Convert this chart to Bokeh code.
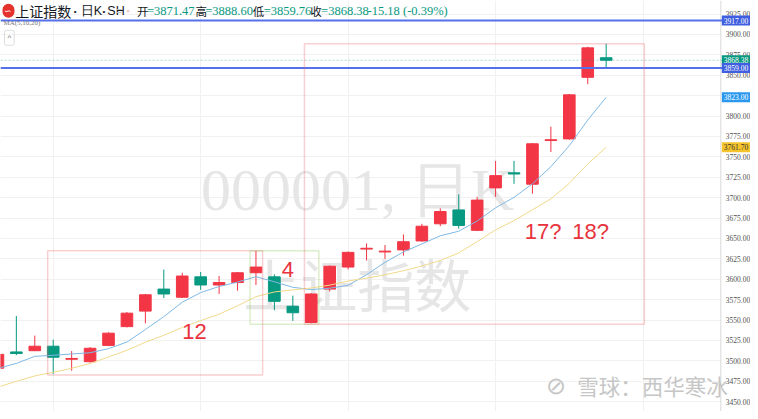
from bokeh.plotting import figure
from bokeh.models import (ColumnDataSource, FixedTicker, Span, BoxAnnotation, Label)
from bokeh.core.properties import value
from bokeh.embed import file_html
from bokeh.resources import INLINE

# ---------------- data ----------------
idx = list(range(34))
opens = [3491, 3511, 3512.5, 3518, 3502, 3499, 3519, 3542, 3561, 3588,
         3578, 3603, 3593, 3596, 3608, 3603, 3567, 3547, 3588, 3615,
         3637, 3633.5, 3636, 3647, 3668, 3685, 3660, 3712, 3730.5, 3716.5,
         3770, 3772, 3847.5, 3871.47]
highs = [3510, 3555, 3531, 3526, 3512, 3517, 3535, 3560, 3582, 3612,
         3608, 3609, 3604, 3609, 3635, 3606, 3580, 3583, 3617, 3634,
         3644, 3642, 3655, 3668, 3687, 3704, 3701, 3745, 3745, 3767,
         3787, 3827, 3885, 3888.60]
lows = [3489, 3507, 3512, 3484, 3488, 3498, 3518, 3541, 3546, 3577,
        3577, 3587, 3582, 3586, 3593, 3562, 3549, 3546, 3585, 3612,
        3623, 3625, 3629, 3646, 3665, 3662, 3659, 3701, 3717, 3705,
        3756, 3771, 3839, 3859.76]
closes = [3508, 3509, 3518, 3504.5, 3503, 3515.5, 3534, 3558.5, 3581, 3582,
          3604, 3593, 3596, 3608, 3615, 3573, 3559, 3582, 3616, 3633,
          3638, 3634.5, 3646, 3665, 3683, 3666, 3697, 3727, 3729, 3766,
          3771, 3826, 3883.56, 3868.38]
ma5 = [3490.9, 3496.9, 3505.6, 3506.9, 3508.5, 3510.0, 3515.0, 3523.1, 3538.4, 3554.2,
       3571.9, 3583.7, 3591.2, 3596.6, 3603.2, 3597.0, 3590.2, 3587.4, 3589.0, 3592.6,
       3605.6, 3620.7, 3633.5, 3643.3, 3653.3, 3658.9, 3671.4, 3687.6, 3700.4, 3717.0,
       3738.0, 3763.8, 3795.1, 3823.0]
ma10 = [3468.0, 3474.9, 3481.6, 3486.0, 3490.9, 3496.8, 3504.9, 3512.9, 3522.9, 3531.4,
        3541.0, 3549.4, 3557.2, 3567.5, 3578.7, 3584.5, 3587.0, 3589.3, 3592.8, 3597.9,
        3601.3, 3605.5, 3610.5, 3616.2, 3623.0, 3632.3, 3646.1, 3660.6, 3671.9, 3685.2,
        3698.5, 3717.6, 3741.4, 3761.7]
price_ticks = [3450, 3475, 3500, 3525, 3550, 3575, 3600, 3625, 3650, 3675, 3700,
               3725, 3750, 3775, 3800, 3825, 3850, 3875, 3900, 3925]
h_levels = [3917.00, 3859.00]
date_grid = [3, 11, 19, 27, 35]

# annotation boxes: (left, right, top, bottom, colour)
boxes = [
    (2.70, 14.36, 3635.1, 3482.8, "#ee5f66"),
    (13.68, 17.41, 3635.1, 3545.0, "#8cc34e"),
    (16.63, 35.07, 3888.7, 3545.0, "#ee5f66"),
]
# box texts: (text, x, y)
box_texts = [("12", 10.66, 3536.0), ("4", 15.73, 3611.7),
             ("17?", 29.58, 3659.1), ("18?", 32.16, 3659.1)]

# ---------------- styling ----------------
RED = "#f23645"
GREEN = "#089981"
X0, X1 = 0.14, 40.83       # whole canvas width
AX = 39.22                 # left edge of the price scale strip
Y0, Y1 = 3438.0, 3941.6
W, H = 750, 411
SX, SY = W / 758, H / 419


def sx(x):
    return x * SX


def sy(y):
    return H - y * SY


p = figure(width=W, height=H, x_range=(X0, X1), y_range=(Y0, Y1),
           x_axis_location=None, y_axis_location=None,
           output_backend="svg", toolbar_location=None, min_border=0,
           outline_line_color=None, background_fill_color="white",
           border_fill_color="white")

p.ygrid.ticker = FixedTicker(ticks=price_ticks)
p.ygrid.grid_line_color = "#f1f1f1"
p.xgrid.ticker = FixedTicker(ticks=date_grid)
p.xgrid.grid_line_color = "#f1f1f1"

# price-scale strip (white, hides grid lines) + its border
p.add_layout(BoxAnnotation(left=AX, fill_color="white", fill_alpha=1.0,
                           line_color=None, level="underlay"))
p.add_layout(Span(location=AX, dimension="height", line_color="#d9d9d9", line_width=1))

# watermarks (behind the candles)
p.add_layout(Label(x=19.52, y=3709, text="000001, 日K", text_align="center",
                   text_baseline="middle", text_font="Liberation Sans Narrow",
                   text_font_size="60px", text_color="#e6e6e6", level="underlay"))
p.add_layout(Label(x=19.5, y=3597, text="上证指数", text_align="center",
                   text_baseline="middle", text_font="Noto Sans CJK SC",
                   text_font_size="57px", text_color="#e6e6e6", level="underlay"))

# price scale labels
p.text(x=[AX] * len(price_ticks), y=price_ticks, text=[f"{t:.2f}" for t in price_ticks],
       x_offset=5, text_align="left", text_baseline="middle",
       text_font=value("Liberation Sans Narrow"), text_font_size="7.5px",
       text_color="#4f4f4f")

# candles
tops = [max(o, c) for o, c in zip(opens, closes)]
bottoms = [min(o, c) for o, c in zip(opens, closes)]
colors = [RED if c >= o else GREEN for o, c in zip(opens, closes)]
src = ColumnDataSource(dict(x=idx, high=highs, low=lows, top=tops, bottom=bottoms, color=colors))
p.segment(x0="x", y0="high", x1="x", y1="low", line_color="color", line_width=1, source=src)
p.vbar(x="x", width=0.63, top="top", bottom="bottom", fill_color="color",
       line_color="color", line_width=1, source=src)

# moving averages
p.line(idx, ma5, line_color="#7fb9e6", line_width=1)
p.line(idx, ma10, line_color="#f1d98c", line_width=1)

# horizontal levels
for lv in h_levels:
    p.add_layout(Span(location=lv, dimension="width", line_color="#5570e8", line_width=2))
p.add_layout(Span(location=closes[-1], dimension="width", line_color=GREEN,
                  line_alpha=0.35, line_dash="2 2", line_width=1))

# boxes with labels
for left, right, top, bottom, col in boxes:
    p.add_layout(BoxAnnotation(left=left, right=right, top=top, bottom=bottom,
                               fill_color=None, fill_alpha=0, line_color=col,
                               line_width=1.5))
for txt, lx, ly in box_texts:
    p.add_layout(Label(x=lx, y=ly, text=txt, text_align="center", text_baseline="middle",
                       text_font="Liberation Sans", text_font_size="22px",
                       text_color="#e8333d"))

# price tags on the price scale
tags = [(h_levels[0], "#3f5fe0", "white"),
        (closes[-1], GREEN, "white"),
        (h_levels[1], "#3f5fe0", "white"),
        (ma5[-1], "#2b98f0", "white"),
        (ma10[-1], "#f5c32c", "#333333")]
for val, bg, fg in tags:
    p.add_layout(Label(x=AX, y=val, x_offset=1, text=f"{val:.2f}", text_align="left",
                       text_baseline="middle", text_font="Liberation Sans Narrow",
                       text_font_size="7.5px", text_color=fg, background_fill_color=bg,
                       padding=2))

# header
p.add_layout(Label(x=sx(2), y=sy(10.5), x_units="screen", y_units="screen", text="∽",
                   text_color="white", text_font_size="9px", text_baseline="middle",
                   background_fill_color="#e5322d", padding=2, border_radius=6))
title_parts = [("上证指数", 15, "Noto Sans CJK SC", "14px"),
               ("•", 74, "Liberation Sans", "8px"),
               ("日K", 81, "Liberation Sans", "12.5px"),
               ("•", 103, "Liberation Sans", "8px"),
               ("SH", 108, "Liberation Sans", "12.5px")]
for t, tx, fnt, fs in title_parts:
    p.add_layout(Label(x=sx(tx), y=sy(11), x_units="screen", y_units="screen", text=t,
                       text_font=fnt, text_font_size=fs, text_color="#131722",
                       text_baseline="middle"))
p.add_layout(Label(x=sx(117), y=sy(11), x_units="screen", y_units="screen",
                   text="=", text_font_size="10px", text_color="#c4c4c4",
                   text_baseline="middle"))
p.add_layout(Label(x=sx(127), y=sy(11), x_units="screen", y_units="screen",
                   text="▪", text_font_size="9px", text_color="#ecc9c9",
                   text_baseline="middle"))
title_x = [138, 197, 255, 313]
value_x = [148, 207, 266, 324]
vals = [opens[-1], highs[-1], lows[-1], closes[-1]]
for t, tx, vx, v in zip(["开", "高", "低", "收"], title_x, value_x, vals):
    p.add_layout(Label(x=sx(tx), y=sy(11), x_units="screen", y_units="screen", text=t,
                       text_font="Noto Sans CJK SC", text_font_size="11.5px",
                       text_color="#131722", text_baseline="middle"))
    p.add_layout(Label(x=sx(vx), y=sy(11), x_units="screen", y_units="screen",
                       text=f"={v:.2f}", text_font="Liberation Sans Narrow",
                       text_font_size="12.5px", text_color=GREEN, text_baseline="middle"))
chg = closes[-1] - closes[-2]
pct = chg / closes[-2] * 100
p.add_layout(Label(x=sx(371), y=sy(11), x_units="screen", y_units="screen",
                   text=f"{chg:.2f} ({pct:.2f}%)", text_font="Liberation Sans Narrow",
                   text_font_size="12.5px", text_color=GREEN, text_baseline="middle"))
p.add_layout(Label(x=sx(3), y=sy(22.5), x_units="screen", y_units="screen",
                   text="MA(5,10,20)", text_font="Liberation Sans Narrow",
                   text_font_size="7px", text_color="#777777", text_baseline="middle"))
p.add_layout(Label(x=sx(4), y=sy(38), x_units="screen", y_units="screen", text="^",
                   text_font_size="8px", text_color="#666666", text_baseline="middle",
                   border_line_color="#dddddd", padding=3, border_radius=2))

# bottom-right watermark
p.add_layout(Label(x=sx(551), y=sy(393), x_units="screen", y_units="screen", text="⊘",
                   text_font_size="24px", text_color="#c6c6c6", text_baseline="middle"))
p.add_layout(Label(x=sx(583), y=sy(393), x_units="screen", y_units="screen",
                   text="雪球：西华寒冰", text_font="Noto Sans CJK SC",
                   text_font_size="21.5px", text_color="#c6c6c6", text_baseline="middle"))

open("out.html", "w").write(file_html(p, INLINE))
